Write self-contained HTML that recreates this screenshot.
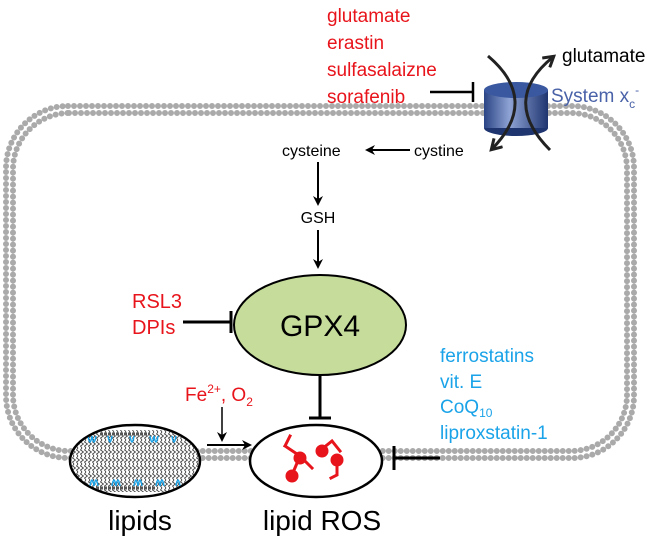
<!DOCTYPE html>
<html><head><style>body{margin:0;background:#fff}svg{display:block}</style></head><body>
<svg width="666" height="541" viewBox="0 0 666 541" xmlns="http://www.w3.org/2000/svg" font-family="Liberation Sans, sans-serif">
<defs>
<marker id="a" markerWidth="10" markerHeight="10" refX="8" refY="5" orient="auto" markerUnits="userSpaceOnUse"><path d="M0,0 L10,5 L0,10 L3,5z" fill="#000"/></marker>
<marker id="b" markerWidth="14" markerHeight="14" refX="10" refY="7" orient="auto" markerUnits="userSpaceOnUse"><path d="M1,1 L11,7 L1,13" fill="none" stroke="#222" stroke-width="3"/></marker>
<linearGradient id="cyl" x1="0" x2="1"><stop offset="0" stop-color="#2a4585"/><stop offset="0.4" stop-color="#8fa3d4"/><stop offset="1" stop-color="#1e3570"/></linearGradient>
<pattern id="wv" width="4" height="8" patternUnits="userSpaceOnUse"><path d="M2,0 L0.5,2 L3.5,4 L0.5,6 L2,8" fill="none" stroke="#333" stroke-width="0.8"/></pattern>
<clipPath id="lc"><ellipse cx="135" cy="461" rx="64" ry="35"/></clipPath>
</defs>
<g fill="none" stroke="#aaa" stroke-width="6" stroke-dasharray="0 6" stroke-linecap="round">
<rect x="6" y="106" width="628" height="352" rx="62"/>
<rect x="13" y="113" width="614" height="338" rx="56"/>
</g>
<g fill="#e8141b" font-size="19">
<text x="327" y="22">glutamate</text><text x="327" y="49">erastin</text><text x="327" y="76">sulfasalaizne</text><text x="327" y="103">sorafenib</text>
</g>
<path d="M430,92 H473 M473,82 V102" stroke="#000" stroke-width="2.5"/>
<rect x="484" y="90" width="64" height="38" fill="url(#cyl)"/>
<ellipse cx="516" cy="128" rx="32" ry="8" fill="#1e3570"/>
<rect x="484" y="90" width="64" height="38" fill="url(#cyl)"/>
<ellipse cx="516" cy="90" rx="32" ry="8" fill="#3a58a0"/>
<path d="M488,56 Q540,100 492,149" fill="none" stroke="#222" stroke-width="3" marker-end="url(#b)"/>
<path d="M550,150 Q500,100 553,57" fill="none" stroke="#222" stroke-width="3" marker-end="url(#b)"/>
<text x="562" y="62" font-size="19">glutamate</text>
<text x="551" y="102" font-size="19" fill="#4a62a8">System x<tspan font-size="12" dy="6">c</tspan><tspan font-size="12" dy="-14">-</tspan></text>
<text x="414" y="156" font-size="16">cystine</text>
<text x="282" y="156" font-size="16">cysteine</text>
<line x1="410" y1="150" x2="367" y2="150" stroke="#000" stroke-width="2" marker-end="url(#a)"/>
<line x1="318" y1="162" x2="318" y2="204" stroke="#000" stroke-width="2" marker-end="url(#a)"/>
<text x="318" y="223" font-size="16" text-anchor="middle">GSH</text>
<line x1="318" y1="230" x2="318" y2="267" stroke="#000" stroke-width="2" marker-end="url(#a)"/>
<ellipse cx="320" cy="325" rx="86" ry="50" fill="#c5dc9a" stroke="#000" stroke-width="2"/>
<text x="320" y="336" font-size="30" text-anchor="middle">GPX4</text>
<g fill="#e8141b" font-size="20"><text x="132" y="308">RSL3</text><text x="132" y="334">DPIs</text></g>
<path d="M183,322 H231 M231,311 V333" stroke="#000" stroke-width="3"/>
<path d="M320,376 V418 M309,418 H331" stroke="#000" stroke-width="3"/>
<g fill="#1aa3e8" font-size="19"><text x="440" y="362">ferrostatins</text><text x="440" y="388">vit. E</text><text x="440" y="413">CoQ<tspan font-size="12" dy="4">10</tspan></text><text x="440" y="439">liproxstatin-1</text></g>
<path d="M440,458 H394 M394,446 V470" stroke="#000" stroke-width="3"/>
<text x="185" y="401" font-size="19" fill="#e8141b">Fe<tspan font-size="12" dy="-8">2+</tspan><tspan dy="8">, O</tspan><tspan font-size="12" dy="5">2</tspan></text>
<line x1="222" y1="407" x2="222" y2="440" stroke="#000" stroke-width="1.5" marker-end="url(#a)"/>
<line x1="207" y1="445" x2="250" y2="445" stroke="#000" stroke-width="2" marker-end="url(#a)"/>
<!-- lipids -->
<ellipse cx="135" cy="461" rx="65" ry="36" fill="#fff" stroke="#000" stroke-width="2.5"/>
<g clip-path="url(#lc)">
<rect x="70" y="430" width="130" height="62" fill="url(#wv)"/>
<g fill="none" stroke="#333" stroke-width="1">
<path d="M100,434 h50 M96,488 h60" stroke-dasharray="3 1" stroke-width="3" stroke="#555"/>
</g>
<g fill="none" stroke="#1aa3e8" stroke-width="1.5">
<path d="M88,436 q2,12 4,0 q2,12 4,0 M108,436 q2,12 4,0 M130,436 q2,12 4,0 M150,436 q2,12 4,0 q2,12 4,0 M172,436 q2,12 4,0 M90,486 q2,-12 4,0 q2,-12 4,0 M112,486 q2,-12 4,0 q2,-12 4,0 M134,486 q2,-12 4,0 q2,-12 4,0 M156,486 q2,-12 4,0 q2,-12 4,0 M176,486 q2,-12 4,0"/>
</g>
</g>
<text x="140" y="530" font-size="28" text-anchor="middle">lipids</text>
<!-- lipid ROS -->
<ellipse cx="316" cy="461" rx="66" ry="36" fill="#fff" stroke="#000" stroke-width="2.5"/>
<g fill="#e8141b" stroke="#e8141b" stroke-width="3" stroke-linecap="square">
<path d="M285,446 l5,-10 M285,446 l15,10 M300,456 l12,12 M292,475 l8,-19" fill="none"/>
<circle cx="300" cy="458" r="5"/><circle cx="292" cy="476" r="5"/>
<path d="M322,449 l10,-8 l8,10 M337,460 l0,15 l-6,3" fill="none"/>
<circle cx="322" cy="451" r="5"/><circle cx="337" cy="460" r="5"/>
</g>
<text x="322" y="530" font-size="28" text-anchor="middle">lipid ROS</text>
</svg>
</body></html>
